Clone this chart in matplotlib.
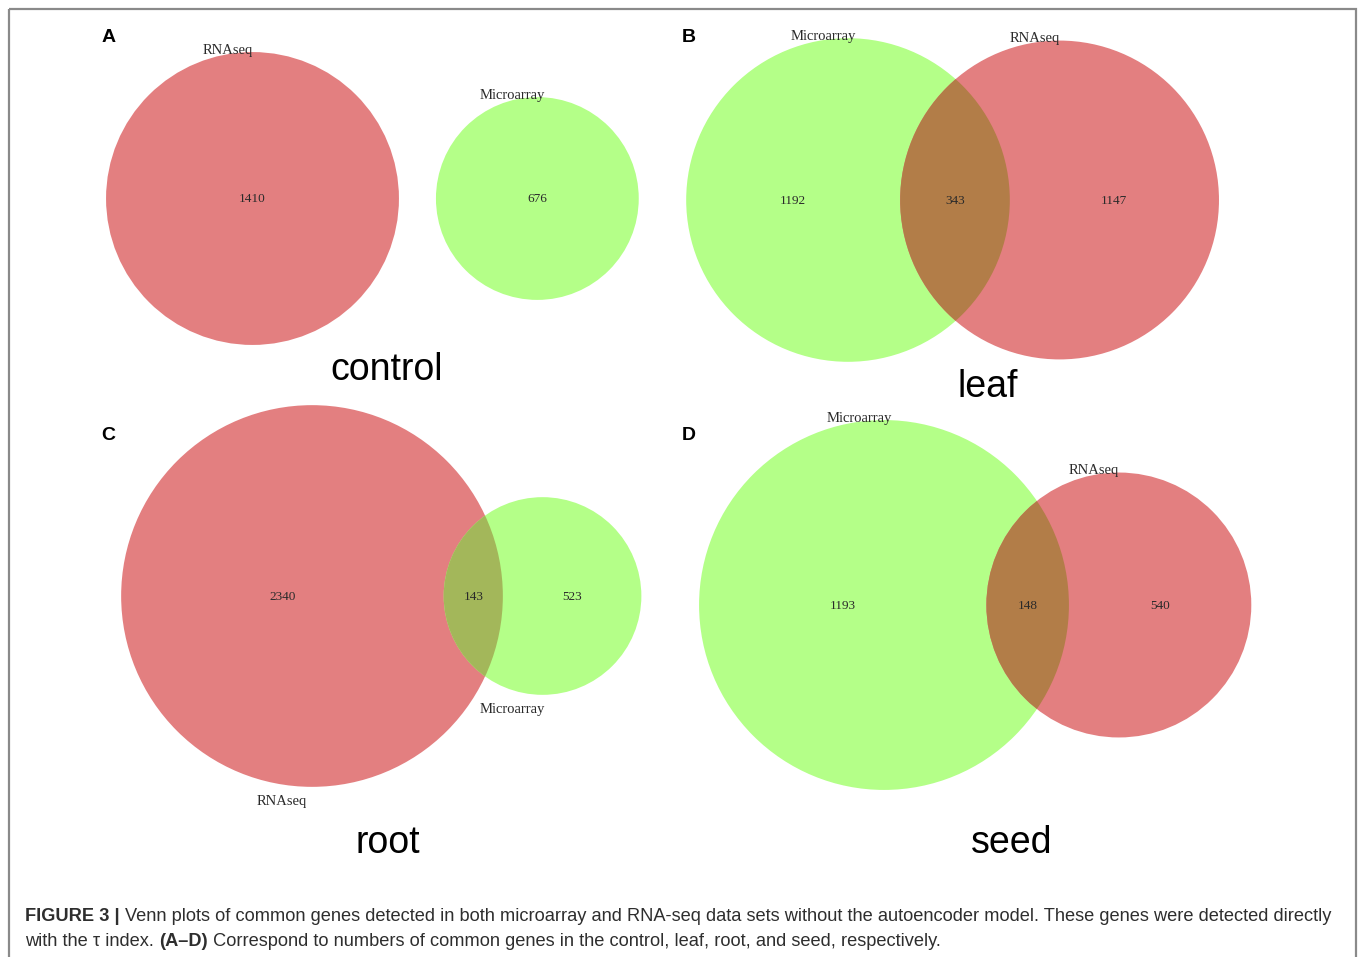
import numpy as np
import matplotlib
matplotlib.use('Agg')
import matplotlib.pyplot as plt
from matplotlib.patches import Circle, Rectangle

# data
panels = ['A', 'B', 'C', 'D']
titles = ['control', 'leaf', 'root', 'seed']
left_sets = ['RNAseq', 'Microarray', 'RNAseq', 'Microarray']
right_sets = ['Microarray', 'RNAseq', 'Microarray', 'RNAseq']
left_only = [1410, 1192, 2340, 1193]
overlap = [0, 343, 143, 148]
right_only = [676, 1147, 523, 540]

caption_1 = [('FIGURE 3 | ', 'bold'),
             ('Venn plots of common genes detected in both microarray and RNA-seq data sets '
              'without the autoencoder model. These genes were detected directly', 'normal')]
caption_2 = [('with the \u03c4 index. ', 'normal'), ('(A\u2013D)', 'bold'),
             (' Correspond to numbers of common genes in the control, leaf, root, and seed, respectively.',
              'normal')]

# style / layout (pixels, y down)
W, H = 1358, 957
fill = {'RNAseq': '#e37f80', 'Microarray': '#b4ff88'}
mix = {'RNAseq': '#b27d48', 'Microarray': '#a3b75a'}   # overlap colour by which set is on top
anchor = [(252.5, 198.5), (848, 200), (312, 596), (884, 605)]  # left circle centre
scale = [3.90, 4.13, 3.83, 5.05]
gap_disjoint = 37
label_side = ['top', 'top', 'bottom', 'top']
letter_xy = [(109, 37), (689, 37), (108, 435), (689, 435)]
title_xy = [(387, 370), (988, 387), (388, 843), (1012, 843)]


def lens_area(d, r1, r2):
    a1 = r1**2 * np.arccos((d*d + r1*r1 - r2*r2) / (2*d*r1))
    a2 = r2**2 * np.arccos((d*d + r2*r2 - r1*r1) / (2*d*r2))
    tri = 0.5 * np.sqrt((-d + r1 + r2) * (d + r1 - r2) * (d - r1 + r2) * (d + r1 + r2))
    return a1 + a2 - tri


def centre_dist(r1, r2, target):
    lo, hi = abs(r1 - r2) + 1e-6, r1 + r2 - 1e-6
    for _ in range(100):
        mid = 0.5 * (lo + hi)
        if lens_area(mid, r1, r2) > target:
            lo = mid
        else:
            hi = mid
    return 0.5 * (lo + hi)


fig = plt.figure(figsize=(W/100, H/100), dpi=100)
ax = fig.add_axes([0, 0, 1, 1])
ax.set_xlim(0, W)
ax.set_ylim(H, 0)
ax.axis('off')

ax.add_patch(Rectangle((8.5, 8.5), 1347, 1000, fill=False, ec='#8a8a8a', lw=1.6, clip_on=False))

serif = ['Liberation Serif', 'DejaVu Serif']
sans = ['Liberation Sans', 'DejaVu Sans']

for i in range(4):
    k = scale[i]
    nl = left_only[i] + overlap[i]
    nr = right_only[i] + overlap[i]
    r1, r2 = k * np.sqrt(nl), k * np.sqrt(nr)
    if overlap[i] > 0:
        d = centre_dist(r1, r2, np.pi * k**2 * overlap[i])
    else:
        d = r1 + r2 + gap_disjoint
    x1, y = anchor[i]
    x2 = x1 + d

    c1 = Circle((x1, y), r1, fc=fill[left_sets[i]], ec='none')
    c2 = Circle((x2, y), r2, fc=fill[right_sets[i]], ec='none')
    ax.add_patch(c1)
    ax.add_patch(c2)
    if overlap[i] > 0:
        lens = Circle((x1, y), r1, fc=mix[right_sets[i]], ec='none')
        ax.add_patch(lens)
        lens.set_clip_path(c2)

    num_kw = dict(ha='center', va='center', fontsize=9.5, color='#2a2a2a', family=serif)
    if overlap[i] > 0:
        la, lb = x2 - r2, x1 + r1
        ax.text((x1 - r1 + la) / 2, y + 1, str(left_only[i]), **num_kw)
        ax.text((la + lb) / 2, y + 1, str(overlap[i]), **num_kw)
        ax.text((lb + x2 + r2) / 2, y + 1, str(right_only[i]), **num_kw)
    else:
        ax.text(x1, y + 1, str(left_only[i]), **num_kw)
        ax.text(x2, y + 1, str(right_only[i]), **num_kw)

    lab_kw = dict(ha='center', va='center', fontsize=10.5, color='#2a2a2a', family=serif)
    for cx, r, name in [(x1, r1, left_sets[i]), (x2, r2, right_sets[i])]:
        if label_side[i] == 'top':
            ax.text(cx - 25, y - r - 2, name, **lab_kw)
        else:
            ax.text(cx - 30, y + r + 15, name, **lab_kw)

    ax.text(*letter_xy[i], panels[i], ha='center', va='center', fontsize=14,
            fontweight='bold', family=sans, color='black')
    ax.text(*title_xy[i], titles[i], ha='center', va='center', fontsize=27,
            family=sans, color='black')

# caption, fitted to the width of the first line
renderer = fig.canvas.get_renderer()
base = 13.0


def run_width(runs, size):
    w = 0
    for s, wt in runs:
        t = fig.text(0, 0, s, fontsize=size, fontweight=wt, family=sans)
        w += t.get_window_extent(renderer).width
        t.remove()
    return w


size = base * 1307 / run_width(caption_1, base)


def put_runs(runs, x, ybase):
    for s, wt in runs:
        t = ax.text(x, ybase, s, fontsize=size, fontweight=wt, family=sans,
                    color='#2e2e2e', ha='left', va='baseline')
        x += t.get_window_extent(renderer).width


put_runs(caption_1, 25, 921)
put_runs(caption_2, 25, 946)

fig.savefig('out.png', dpi=100)
